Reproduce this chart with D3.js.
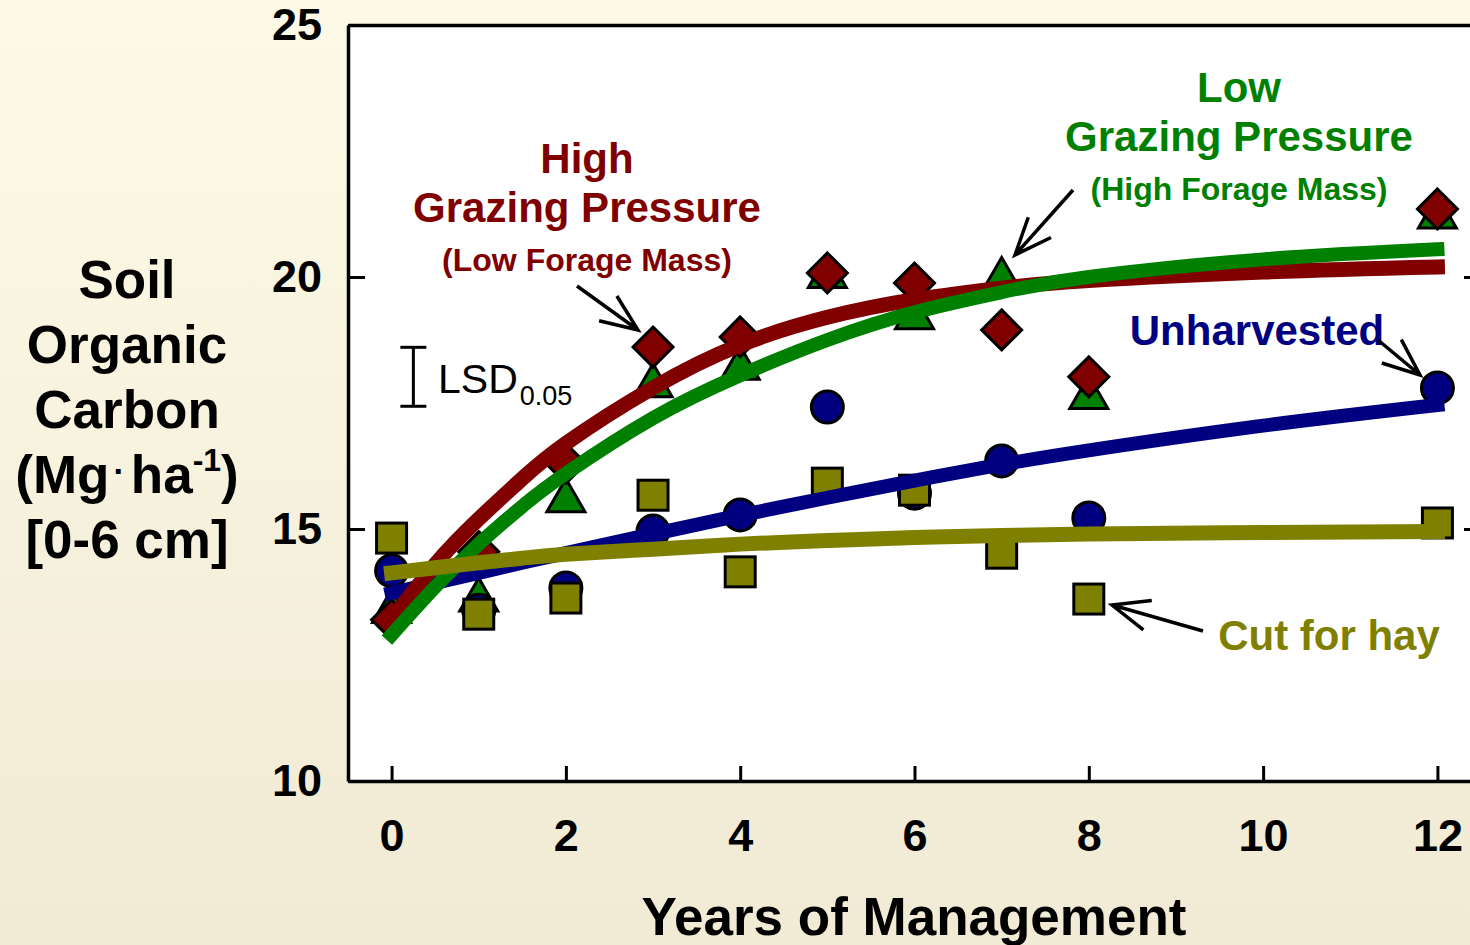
<!DOCTYPE html>
<html>
  <head>
    <meta charset="utf-8" />
    <title>Soil Organic Carbon</title>
    <script src="https://d3js.org/d3.v7.min.js"></script>
    <style>
        body {margin: 0; background: #f6f2de;}
        text {font-family: "Liberation Sans", Arial, sans-serif;}
        .axis path, .axis line {stroke: #000;}
        .axis path {stroke-width: 3.5;}
        .axis line {stroke-width: 3;}
    </style>
  </head>
  <body>
    <script>

        var years = [0, 1, 2, 3, 4, 5, 6, 7, 8, 12];
        var highGrazing = [13.2, 14.55, 16.3, 18.61, 18.81, 20.08, 19.88, 18.95, 18.02, 21.35];
        var lowGrazing  = [13.47, 13.7, 15.67, 17.95, 18.3, 20.12, 19.3, 20.06, 17.72, 21.3];
        var unharvested = [14.17, 13.39, 13.83, 14.96, 15.28, 17.42, 15.71, 16.35, 15.22, 17.8];
        var cutForHay   = [14.82, 13.31, 13.63, 15.67, 14.15, 15.91, 15.77, 14.52, 13.61, 15.12];

        // fitted curves
        var fitYears  = [0, 0.5, 1, 1.5, 2, 3, 4, 5, 6, 7, 8, 10, 12];
        var fitHigh   = [13.2, 14.3, 15.2, 16.0, 16.7, 17.8, 18.65, 19.2, 19.55, 19.78, 19.93, 20.1, 20.2];
        var fitLow    = [12.9, 13.85, 14.7, 15.45, 16.1, 17.2, 18.05, 18.75, 19.3, 19.7, 20.0, 20.35, 20.55];
        var fitUnharv = [13.73, 13.93, 14.13, 14.33, 14.52, 14.9, 15.27, 15.62, 15.96, 16.28, 16.56, 17.05, 17.46];
        var fitHay    = [14.13, 14.23, 14.33, 14.42, 14.5, 14.6, 14.7, 14.77, 14.83, 14.87, 14.9, 14.93, 14.95];

        var xTicks = [0, 2, 4, 6, 8, 10, 12];
        var yTicks = [10, 15, 20, 25];
        var lsd = 1.17;

        var W = 1470, H = 945;

        var svg = d3.select("body").append("svg")
                    .attr("width", W)
                    .attr("height", H);

        var grad = svg.append("defs").append("linearGradient")
                    .attr("id", "bg").attr("x1", 0).attr("y1", 0).attr("x2", 0).attr("y2", 1);
        grad.append("stop").attr("offset", "0%").attr("stop-color", "#fcfae6");
        grad.append("stop").attr("offset", "100%").attr("stop-color", "#f1ead5");

        svg.append("rect").attr("width", W).attr("height", H).attr("fill", "url(#bg)");

        var x = d3.scaleLinear().domain([-0.5, 12.5]).range([348, 1481]);
        var y = d3.scaleLinear().domain([10, 25]).range([781, 25]);

        svg.append("rect")
            .attr("x", x(-0.5)).attr("y", y(25))
            .attr("width", x(12.5) - x(-0.5)).attr("height", y(10) - y(25))
            .attr("fill", "#fff");

        // axes
        svg.append("g").attr("class", "axis")
            .attr("transform", "translate(" + x(-0.5) + ",0)")
            .call(d3.axisLeft(y).tickValues(yTicks).tickSize(-17).tickSizeOuter(0).tickPadding(26))
            .call(function(g){
                g.selectAll("text").attr("font-size", 45).attr("font-weight", "bold")
                 .attr("fill", "#000").attr("font-family", "Liberation Sans, Arial, sans-serif");
            });

        svg.append("g").attr("class", "axis")
            .attr("transform", "translate(" + x(12.5) + ",0)")
            .call(d3.axisRight(y).tickValues(yTicks).tickSize(-17).tickSizeOuter(0).tickFormat(""));

        svg.append("g").attr("class", "axis")
            .attr("transform", "translate(0," + y(25) + ")")
            .call(d3.axisTop(x).tickValues([]).tickSizeOuter(0));

        svg.append("g").attr("class", "axis")
            .attr("transform", "translate(0," + y(10) + ")")
            .call(d3.axisBottom(x).tickValues(xTicks).tickSize(-15).tickSizeOuter(0).tickPadding(38))
            .call(function(g){
                g.selectAll("text").attr("font-size", 45).attr("font-weight", "bold")
                 .attr("fill", "#000").attr("font-family", "Liberation Sans, Arial, sans-serif");
            });

        // markers
        function pts(vals) {
            return vals.map(function(v, i){ return {x: years[i], y: v}; });
        }

        svg.append("g").selectAll("path")
            .data(pts(lowGrazing))
            .enter().append("path")
            .attr("d", "M0,-16.5L19,16.5L-19,16.5Z")
            .attr("transform", function(d){ return "translate(" + x(d.x) + "," + y(d.y) + ")"; })
            .attr("fill", "#008000").attr("stroke", "#000").attr("stroke-width", 3);

        svg.append("g").selectAll("path")
            .data(pts(highGrazing))
            .enter().append("path")
            .attr("d", "M0,-20L20,0L0,20L-20,0Z")
            .attr("transform", function(d){ return "translate(" + x(d.x) + "," + y(d.y) + ")"; })
            .attr("fill", "#800000").attr("stroke", "#000").attr("stroke-width", 3);

        svg.append("g").selectAll("circle")
            .data(pts(unharvested))
            .enter().append("circle")
            .attr("cx", function(d){ return x(d.x); })
            .attr("cy", function(d){ return y(d.y); })
            .attr("r", 16)
            .attr("fill", "#000080").attr("stroke", "#000").attr("stroke-width", 3);

        svg.append("g").selectAll("rect")
            .data(pts(cutForHay))
            .enter().append("rect")
            .attr("x", function(d){ return x(d.x) - 15; })
            .attr("y", function(d){ return y(d.y) - 15; })
            .attr("width", 30).attr("height", 30)
            .attr("fill", "#808000").attr("stroke", "#000").attr("stroke-width", 3);

        // fitted lines
        var line = d3.line()
                    .x(function(d){ return x(d.x); })
                    .y(function(d){ return y(d.y); })
                    .curve(d3.curveNatural);

        var fits = [
            {vals: fitUnharv, color: "#000080", w: 14},
            {vals: fitHigh,   color: "#800000", w: 15},
            {vals: fitLow,    color: "#008000", w: 14},
            {vals: fitHay,    color: "#808000", w: 15}
        ];

        svg.append("g").selectAll("path")
            .data(fits)
            .enter().append("path")
            .attr("d", function(f){
                return line(f.vals.map(function(v, i){ return {x: fitYears[i], y: v}; }));
            })
            .attr("fill", "none")
            .attr("stroke", function(f){ return f.color; })
            .attr("stroke-width", function(f){ return f.w; })
            .attr("stroke-linecap", "square");

        // LSD bar
        var lsdX = 0.25, lsdMid = 18.02;
        var lsdG = svg.append("g").attr("stroke", "#000").attr("stroke-width", 3);
        lsdG.append("line")
            .attr("x1", x(lsdX)).attr("x2", x(lsdX))
            .attr("y1", y(lsdMid - lsd / 2)).attr("y2", y(lsdMid + lsd / 2));
        [lsdMid - lsd / 2, lsdMid + lsd / 2].forEach(function(v){
            lsdG.append("line")
                .attr("x1", x(lsdX) - 13).attr("x2", x(lsdX) + 13)
                .attr("y1", y(v)).attr("y2", y(v));
        });
        var lsdT = svg.append("text").attr("x", 438).attr("y", 393).attr("font-size", 41);
        lsdT.append("tspan").text("LSD");
        lsdT.append("tspan").attr("font-size", 27).attr("dx", 2).attr("dy", 12).text("0.05");

        // labels
        function label(lines, cx, color) {
            lines.forEach(function(l){
                svg.append("text")
                    .attr("x", cx).attr("y", l[1])
                    .attr("text-anchor", "middle")
                    .attr("font-weight", "bold")
                    .attr("font-size", l[2])
                    .attr("fill", color)
                    .text(l[0]);
            });
        }

        label([["High", 173, 42], ["Grazing Pressure", 222, 42], ["(Low Forage Mass)", 271, 32]], 587, "#800000");
        label([["Low", 102, 42], ["Grazing Pressure", 151, 42], ["(High Forage Mass)", 200, 32]], 1239, "#008000");
        label([["Unharvested", 345, 42]], 1257, "#000080");
        label([["Cut for hay", 650, 42]], 1329, "#808000");

        // arrows
        function arrow(x1, y1, x2, y2) {
            var a = Math.atan2(y1 - y2, x1 - x2), len = 40, sp = 0.39;
            var p = d3.path();
            p.moveTo(x1, y1); p.lineTo(x2, y2);
            p.moveTo(x2 + len * Math.cos(a - sp), y2 + len * Math.sin(a - sp));
            p.lineTo(x2, y2);
            p.lineTo(x2 + len * Math.cos(a + sp), y2 + len * Math.sin(a + sp));
            svg.append("path").attr("d", p.toString())
                .attr("fill", "none").attr("stroke", "#000").attr("stroke-width", 3.5);
        }
        arrow(577, 286, 638, 330);
        arrow(1073, 190, 1015, 255);
        arrow(1378, 340, 1420, 375);
        arrow(1203, 631, 1112, 605);

        // axis titles
        svg.append("text")
            .attr("x", 914).attr("y", 935)
            .attr("text-anchor", "middle")
            .attr("font-size", 53).attr("font-weight", "bold")
            .text("Years of Management");

        var yTitle = ["Soil", "Organic", "Carbon", null, "[0-6 cm]"];
        yTitle.forEach(function(t, i){
            var tx = svg.append("text")
                .attr("x", 127).attr("y", 298 + i * 65)
                .attr("text-anchor", "middle")
                .attr("font-size", 53).attr("font-weight", "bold");
            if (t) { tx.text(t); return; }
            tx.append("tspan").text("(Mg");
            tx.append("tspan").attr("font-size", 34).attr("dx", 4).attr("dy", -10).text("\u00b7");
            tx.append("tspan").attr("dx", 6).attr("dy", 10).text("ha");
            tx.append("tspan").attr("font-size", 32).attr("dy", -22).text("-1");
            tx.append("tspan").attr("dy", 22).text(")");
        });

    </script>
  </body>
</html>
